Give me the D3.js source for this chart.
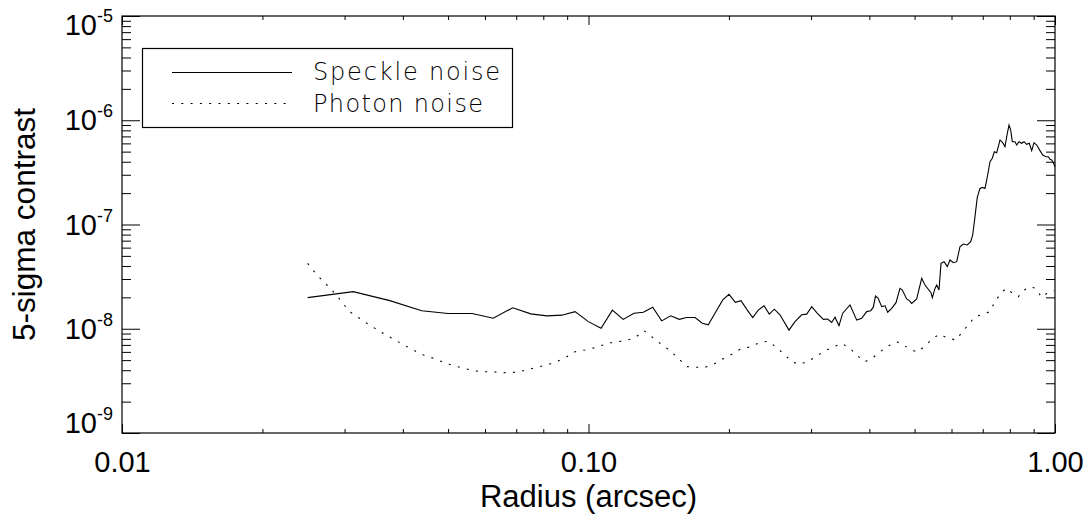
<!DOCTYPE html>
<html>
<head>
<meta charset="utf-8">
<script src="https://cdn.jsdelivr.net/npm/d3@7"></script>
<style>
  html, body { margin: 0; padding: 0; background: #fff; }
  svg { display: block; }
</style>
</head>
<body>
<svg id="chart" width="1091" height="514"></svg>
<script>
// Axis ticks
const radiusTicks = [0.01, 0.1, 1];
const radiusTickLabels = ["0.01", "0.10", "1.00"];
const contrastTicks = [1e-9, 1e-8, 1e-7, 1e-6, 1e-5];
const contrastExponents = ["-9", "-8", "-7", "-6", "-5"];

// Speckle noise: 5-sigma contrast vs radius (arcsec)
const speckleRadius = [
  0.0250, 0.0313, 0.0375, 0.0439, 0.0500, 0.0563, 0.0625, 0.0688, 0.0752, 0.0814,
  0.0876, 0.0936, 0.0999, 0.1064, 0.1125, 0.1187, 0.1252, 0.1311, 0.1373, 0.1435,
  0.1501, 0.1565, 0.1624, 0.1692, 0.1754, 0.1806, 0.1867, 0.1940, 0.2001, 0.2064,
  0.2123, 0.2190, 0.2249, 0.2312, 0.2378, 0.2441, 0.2502, 0.2573, 0.2690, 0.2771,
  0.2864, 0.2936, 0.3010, 0.3085, 0.3187, 0.3256, 0.3321, 0.3376, 0.3443, 0.3507,
  0.3636, 0.3758, 0.3851, 0.3948, 0.4027, 0.4079, 0.4123, 0.4175, 0.4251, 0.4321,
  0.4379, 0.4466, 0.4562, 0.4652, 0.4706, 0.4809, 0.4872, 0.4929, 0.5052, 0.5179,
  0.5264, 0.5422, 0.5458, 0.5531, 0.5577, 0.5641, 0.5697, 0.5783, 0.5877, 0.5956,
  0.6054, 0.6156, 0.6256, 0.6359, 0.6486, 0.6596, 0.6662, 0.6737, 0.6814, 0.6906,
  0.6986, 0.7078, 0.7160, 0.7256, 0.7338, 0.7411, 0.7499, 0.7623, 0.7725, 0.7813,
  0.7903, 0.7969, 0.8036, 0.8100, 0.8209, 0.8278, 0.8372, 0.8484, 0.8582, 0.8696,
  0.8809, 0.8913, 0.9016, 0.9137, 0.9286, 0.9411, 0.9565, 0.9674, 0.9756, 0.9838,
  0.9917, 1.0000
];
const speckleContrast = [
  1.99e-8, 2.27e-8, 1.86e-8, 1.49e-8, 1.40e-8, 1.40e-8, 1.26e-8, 1.59e-8, 1.39e-8, 1.33e-8,
  1.35e-8, 1.46e-8, 1.17e-8, 1.01e-8, 1.51e-8, 1.23e-8, 1.41e-8, 1.44e-8, 1.61e-8, 1.19e-8,
  1.33e-8, 1.23e-8, 1.28e-8, 1.28e-8, 1.13e-8, 1.09e-8, 1.41e-8, 1.89e-8, 2.14e-8, 1.79e-8,
  1.86e-8, 1.51e-8, 1.28e-8, 1.51e-8, 1.66e-8, 1.38e-8, 1.54e-8, 1.36e-8, 9.7e-9, 1.17e-8,
  1.36e-8, 1.38e-8, 1.63e-8, 1.43e-8, 1.23e-8, 1.24e-8, 1.15e-8, 1.29e-8, 1.07e-8, 1.41e-8,
  1.69e-8, 1.21e-8, 1.26e-8, 1.46e-8, 1.49e-8, 1.61e-8, 2.06e-8, 1.97e-8, 1.63e-8, 1.66e-8,
  1.44e-8, 1.57e-8, 1.78e-8, 2.44e-8, 2.35e-8, 1.93e-8, 1.86e-8, 1.75e-8, 1.93e-8, 3.05e-8,
  2.63e-8, 2.22e-8, 1.99e-8, 2.44e-8, 2.63e-8, 2.35e-8, 4.24e-8, 4.40e-8, 3.94e-8, 4.57e-8,
  4.30e-8, 4.40e-8, 6.12e-8, 6.50e-8, 6.36e-8, 6.84e-8, 7.93e-8, 1.19e-7, 1.82e-7, 2.22e-7,
  2.27e-7, 2.22e-7, 2.87e-7, 4.00e-7, 4.32e-7, 4.99e-7, 4.88e-7, 6.47e-7, 6.09e-7, 5.58e-7,
  7.50e-7, 9.00e-7, 8.06e-7, 6.23e-7, 6.23e-7, 5.79e-7, 6.23e-7, 6.01e-7, 6.23e-7, 5.88e-7,
  6.01e-7, 5.11e-7, 6.09e-7, 5.79e-7, 5.11e-7, 4.64e-7, 4.47e-7, 4.47e-7, 4.22e-7, 4.16e-7,
  3.92e-7, 3.58e-7
];

// Photon noise: 5-sigma contrast vs radius (arcsec)
const photonRadius = [
  0.0250, 0.0259, 0.0269, 0.0278, 0.0289, 0.0298, 0.0309, 0.0323, 0.0337, 0.0353,
  0.0368, 0.0385, 0.0402, 0.0421, 0.0443, 0.0465, 0.0488, 0.0513, 0.0539, 0.0567,
  0.0595, 0.0627, 0.0662, 0.0696, 0.0737, 0.0774, 0.0814, 0.0855, 0.0898, 0.0936,
  0.0983, 0.1033, 0.1085, 0.1140, 0.1197, 0.1258, 0.1315, 0.1366, 0.1423, 0.1483,
  0.1546, 0.1624, 0.1692, 0.1777, 0.1858, 0.1940, 0.2036, 0.2130, 0.2219, 0.2323,
  0.2429, 0.2527, 0.2627, 0.2727, 0.2831, 0.2944, 0.3074, 0.3198, 0.3338, 0.3490,
  0.3636, 0.3769, 0.3915, 0.4079, 0.4216, 0.4392, 0.4578, 0.4729, 0.4888, 0.5060,
  0.5238, 0.5442, 0.5649, 0.5907, 0.6135, 0.6310, 0.6519, 0.6737, 0.6966, 0.7256,
  0.7400, 0.7623, 0.7852, 0.8114, 0.8343, 0.8582, 0.8839, 0.9091, 0.9365, 0.9674,
  0.9952
];
const photonContrast = [
  4.24e-8, 3.48e-8, 2.89e-8, 2.50e-8, 2.07e-8, 1.73e-8, 1.44e-8, 1.26e-8, 1.11e-8, 9.73e-9,
  8.71e-9, 7.80e-9, 6.98e-9, 6.25e-9, 5.60e-9, 5.21e-9, 4.77e-9, 4.42e-9, 4.20e-9, 3.96e-9,
  3.87e-9, 3.85e-9, 3.79e-9, 3.82e-9, 4.02e-9, 4.27e-9, 4.49e-9, 4.83e-9, 5.39e-9, 6.02e-9,
  6.25e-9, 6.58e-9, 7.09e-9, 7.51e-9, 7.63e-9, 8.21e-9, 9.58e-9, 8.39e-9, 7.25e-9, 6.35e-9,
  5.39e-9, 4.33e-9, 4.27e-9, 4.27e-9, 4.59e-9, 5.13e-9, 5.73e-9, 6.49e-9, 6.68e-9, 7.35e-9,
  7.60e-9, 6.64e-9, 5.69e-9, 4.83e-9, 4.56e-9, 4.83e-9, 5.39e-9, 6.12e-9, 6.64e-9, 7.25e-9,
  6.49e-9, 5.51e-9, 4.83e-9, 5.32e-9, 6.02e-9, 6.83e-9, 7.51e-9, 6.98e-9, 6.39e-9, 5.98e-9,
  6.68e-9, 7.92e-9, 8.85e-9, 8.10e-9, 7.80e-9, 9.17e-9, 1.09e-8, 1.31e-8, 1.36e-8, 1.46e-8,
  1.75e-8, 2.14e-8, 2.44e-8, 2.19e-8, 2.03e-8, 2.35e-8, 2.53e-8, 2.44e-8, 2.00e-8, 2.24e-8,
  2.32e-8
];

const seriesNames = ["Speckle noise", "Photon noise"];

(function draw() {
  const svg = d3.select("#chart");
  const mLeft = 122, mRight = 1055, mTop = 16, mBottom = 433;
  const FONT = "'Liberation Sans', Arial, Helvetica, sans-serif";

  const x = d3.scaleLog().domain([0.01, 1]).range([mLeft, mRight]);
  const y = d3.scaleLog().domain([1e-9, 1e-5]).range([mBottom, mTop]);

  // minor tick positions (2..9 within each decade)
  const minorX = [];
  [0.01, 0.1].forEach(d => { for (let k = 2; k <= 9; k++) minorX.push(d * k); });
  const minorY = [];
  [1e-9, 1e-8, 1e-7, 1e-6].forEach(d => { for (let k = 2; k <= 9; k++) minorY.push(d * k); });

  function styleAxis(g) {
    g.select(".domain").remove();
    g.selectAll(".tick line").attr("stroke", "#000").attr("stroke-width", 1);
  }

  // bottom axis
  svg.append("g").attr("transform", `translate(0,${mBottom})`)
    .call(d3.axisBottom(x).tickValues(minorX).tickSize(-4).tickFormat(""))
    .call(styleAxis);
  const bottomMajor = svg.append("g").attr("transform", `translate(0,${mBottom})`)
    .call(d3.axisBottom(x).tickValues(radiusTicks).tickSize(-9).tickPadding(18)
      .tickFormat((d, i) => radiusTickLabels[i]))
    .call(styleAxis);
  bottomMajor.attr("font-family", FONT).attr("font-size", 29);
  bottomMajor.selectAll(".tick text").attr("fill", "#000");

  // top axis
  svg.append("g").attr("transform", `translate(0,${mTop})`)
    .call(d3.axisTop(x).tickValues(minorX).tickSize(-4).tickFormat(""))
    .call(styleAxis);
  svg.append("g").attr("transform", `translate(0,${mTop})`)
    .call(d3.axisTop(x).tickValues(radiusTicks).tickSize(-9).tickFormat(""))
    .call(styleAxis);

  // left / right axes
  [[mLeft, d3.axisLeft], [mRight, d3.axisRight]].forEach(([px, ax]) => {
    svg.append("g").attr("transform", `translate(${px},0)`)
      .call(ax(y).tickValues(minorY).tickSize(-9).tickFormat(""))
      .call(styleAxis);
    svg.append("g").attr("transform", `translate(${px},0)`)
      .call(ax(y).tickValues(contrastTicks).tickSize(-18).tickFormat(""))
      .call(styleAxis);
  });

  // y tick labels: 10^n
  const yLab = svg.append("g").attr("font-family", FONT).attr("fill", "#000");
  contrastTicks.forEach((v, i) => {
    const base = Math.max(35, Math.min(433, y(v) + 10));
    const t = yLab.append("text").attr("x", 113).attr("y", base).attr("text-anchor", "end");
    t.append("tspan").attr("font-size", 29).text("10");
    t.append("tspan").attr("font-size", 18).attr("dy", -13).text(contrastExponents[i]);
  });

  // frame
  svg.append("rect").attr("x", mLeft).attr("y", mTop)
    .attr("width", mRight - mLeft).attr("height", mBottom - mTop)
    .attr("fill", "none").attr("stroke", "#000").attr("stroke-width", 1.2);

  // axis titles
  svg.append("text").attr("x", (mLeft + mRight) / 2).attr("y", 507)
    .attr("text-anchor", "middle").attr("font-family", FONT).attr("font-size", 31)
    .text("Radius (arcsec)");
  svg.append("text").attr("transform", "translate(35,224.5) rotate(-90)")
    .attr("text-anchor", "middle").attr("font-family", FONT).attr("font-size", 31.5)
    .text("5-sigma contrast");

  // curves
  const line = d3.line().x(d => x(d[0])).y(d => y(d[1]));
  const plot = svg.append("g");
  plot.append("path")
    .datum(speckleRadius.map((r, i) => [r, speckleContrast[i]]))
    .attr("d", line).attr("fill", "none").attr("stroke", "#000").attr("stroke-width", 1.1);
  plot.append("path")
    .datum(photonRadius.map((r, i) => [r, photonContrast[i]]))
    .attr("d", line).attr("fill", "none").attr("stroke", "#000").attr("stroke-width", 1.1)
    .attr("stroke-dasharray", "2,7.3");

  // legend
  const lg = svg.append("g");
  lg.append("rect").attr("x", 142.5).attr("y", 48.5).attr("width", 370).attr("height", 79)
    .attr("fill", "#fff").attr("stroke", "#000").attr("stroke-width", 1.2);
  lg.append("line").attr("x1", 172).attr("x2", 292).attr("y1", 72.5).attr("y2", 72.5)
    .attr("stroke", "#000").attr("stroke-width", 1.1);
  lg.append("line").attr("x1", 172).attr("x2", 292).attr("y1", 103.5).attr("y2", 103.5)
    .attr("stroke", "#000").attr("stroke-width", 1.1).attr("stroke-dasharray", "2,7.3");
  const legendFont = "'DejaVu Sans', 'Noto Sans', sans-serif";
  lg.append("text").attr("x", 313).attr("y", 79.5).attr("font-family", legendFont)
    .attr("font-weight", 200).attr("font-size", 24)
    .attr("textLength", 187).attr("lengthAdjust", "spacing").text(seriesNames[0]);
  lg.append("text").attr("x", 313).attr("y", 111.5).attr("font-family", legendFont)
    .attr("font-weight", 200).attr("font-size", 24)
    .attr("textLength", 170).attr("lengthAdjust", "spacing").text(seriesNames[1]);
})();
</script>
</body>
</html>
